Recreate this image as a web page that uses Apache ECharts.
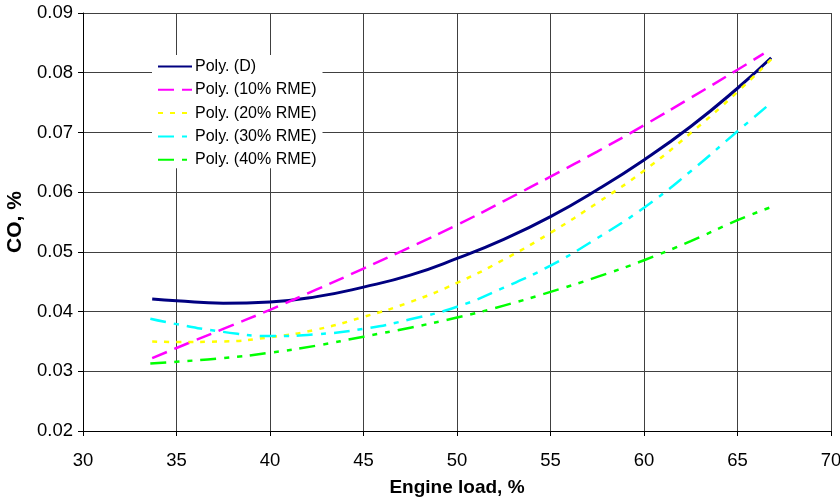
<!DOCTYPE html>
<html>
<head>
<meta charset="utf-8">
<script src="https://cdn.jsdelivr.net/npm/echarts@6/dist/echarts.min.js"></script>
<style>
html,body{margin:0;padding:0;background:#fff;}
#c{width:840px;height:500px;}
</style>
</head>
<body>
<div id="c"></div>
<script>
var seriesNames = ['Poly. (D)', 'Poly. (10% RME)', 'Poly. (20% RME)', 'Poly. (30% RME)', 'Poly. (40% RME)'];
var xTicks = [30, 35, 40, 45, 50, 55, 60, 65, 70];
var yTicks = [0.02, 0.03, 0.04, 0.05, 0.06, 0.07, 0.08, 0.09];

var loadD = [33.7, 35, 37.5, 40, 42.5, 45, 47.5, 50, 52.5, 55, 57.5, 60, 62.5, 65, 66.8];
var coD   = [0.0421, 0.0418, 0.0414, 0.0416, 0.0425, 0.0441, 0.0461, 0.0489, 0.0521, 0.0559, 0.0604, 0.0654, 0.0710, 0.0774, 0.0825];

var load10 = [33.7, 35, 37.5, 40, 42.5, 45, 47.5, 50, 52.5, 55, 57.5, 60, 62.5, 65, 66.4];
var co10   = [0.0322, 0.0339, 0.0371, 0.0403, 0.0437, 0.0472, 0.0508, 0.0545, 0.0585, 0.0626, 0.0668, 0.0712, 0.0758, 0.0805, 0.0832];

var load20 = [33.7, 35, 37.5, 40, 42.5, 45, 47.5, 50, 52.5, 55, 57.5, 60, 62.5, 65, 66.85];
var co20   = [0.0350, 0.0349, 0.0350, 0.0357, 0.0370, 0.0391, 0.0416, 0.0448, 0.0487, 0.0532, 0.0582, 0.0636, 0.0699, 0.0768, 0.0824];

var load30 = [33.6, 35, 37.5, 40, 42.5, 45, 47.5, 50, 52.5, 55, 57.5, 60, 62.5, 65, 66.7];
var co30   = [0.0388, 0.0379, 0.0366, 0.0359, 0.0362, 0.0371, 0.0387, 0.0408, 0.0440, 0.0477, 0.0523, 0.0574, 0.0635, 0.0702, 0.0747];

var load40 = [33.6, 35, 37.5, 40, 42.5, 45, 47.5, 50, 52.5, 55, 57.5, 60, 62.5, 65, 66.8];
var co40   = [0.0313, 0.0316, 0.0322, 0.0331, 0.0343, 0.0358, 0.0373, 0.0390, 0.0410, 0.0433, 0.0458, 0.0486, 0.0518, 0.0553, 0.0575];

function pairs(xs, ys) { return xs.map(function (x, i) { return [x, ys[i]]; }); }

var FONT = '"Liberation Sans", Arial, sans-serif';
var styles = [
  {color: '#000080', width: 3, type: 'solid'},
  {color: '#FF00FF', width: 2.5, type: [16, 8]},
  {color: '#FFFF00', width: 2.5, type: [5, 7]},
  {color: '#00FFFF', width: 2.5, type: [16, 8, 5, 8]},
  {color: '#00FF00', width: 2.5, type: [16, 8, 5, 8, 5, 8]}
];
var datas = [pairs(loadD, coD), pairs(load10, co10), pairs(load20, co20), pairs(load30, co30), pairs(load40, co40)];

var chart = echarts.init(document.getElementById('c'), null, {renderer: 'canvas'});
chart.setOption({
  animation: false,
  backgroundColor: '#fff',
  textStyle: {fontFamily: FONT},
  grid: {left: 83, right: 9, top: 13, bottom: 69, containLabel: false, outerBoundsMode: 'none'},
  legend: {
    orient: 'vertical',
    left: 152, top: 55,
    itemWidth: 34, itemHeight: 14, itemGap: 6.3,
    backgroundColor: '#fff',
    padding: [3, 6, 0, 5],
    itemStyle: {opacity: 0},
    textStyle: {fontFamily: FONT, fontSize: 16, lineHeight: 17, color: '#000', padding: [0, 0, 0, -2]},
    data: seriesNames
  },
  xAxis: {
    type: 'value', min: xTicks[0], max: xTicks[xTicks.length - 1], interval: 5,
    name: 'Engine load, %', nameLocation: 'middle', nameGap: 47,
    nameTextStyle: {fontFamily: FONT, fontSize: 19, fontWeight: 'bold', color: '#000'},
    axisLine: {show: true, lineStyle: {color: '#000', width: 1}},
    axisTick: {show: true, length: 5, lineStyle: {color: '#000'}},
    axisLabel: {fontFamily: FONT, fontSize: 18.5, color: '#000', margin: 20},
    splitLine: {show: true, lineStyle: {color: '#404040', width: 1}}
  },
  yAxis: {
    type: 'value', min: yTicks[0], max: yTicks[yTicks.length - 1], interval: 0.01,
    name: 'CO, %', nameLocation: 'middle', nameGap: 55, nameRotate: 90,
    nameTextStyle: {fontFamily: FONT, fontSize: 21, fontWeight: 'bold', color: '#000'},
    axisLine: {show: true, lineStyle: {color: '#000', width: 1}},
    axisTick: {show: true, length: 5, lineStyle: {color: '#000'}},
    axisLabel: {fontFamily: FONT, fontSize: 18.5, color: '#000', margin: 10,
      formatter: function (v) { return v.toFixed(2); }},
    splitLine: {show: true, lineStyle: {color: '#404040', width: 1}}
  },
  series: seriesNames.map(function (n, i) {
    return {
      name: n, type: 'line', data: datas[i], smooth: true, showSymbol: false, symbol: 'none',
      lineStyle: styles[i], itemStyle: {color: styles[i].color}, z: 2
    };
  })
});
</script>
</body>
</html>
